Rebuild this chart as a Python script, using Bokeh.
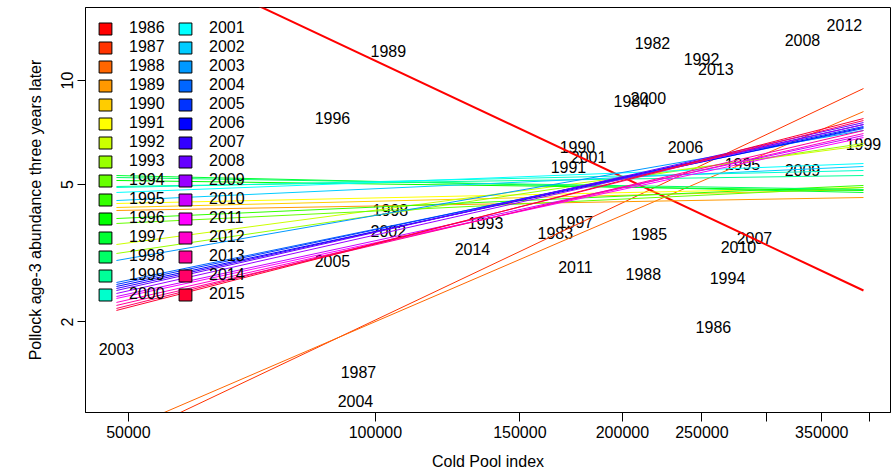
from bokeh.plotting import figure
from bokeh.models import Range1d, FixedTicker, NumeralTickFormatter, Legend, LegendItem, ColumnDataSource
from bokeh.core.properties import value
from bokeh.embed import file_html
from bokeh.resources import INLINE

# ---- data: labelled points (year, cold pool index, pollock abundance 3 yrs later)
label_years = [1982, 1983, 1984, 1985, 1986, 1987, 1988, 1989, 1990, 1991,
               1992, 1993, 1994, 1995, 1996, 1997, 1998, 1999, 2000, 2001,
               2002, 2003, 2004, 2005, 2006, 2007, 2008, 2009, 2010, 2011,
               2012, 2013, 2014]
cold_pool = [217600, 165700, 205100, 215700, 258200, 95350, 212100, 103700, 176300, 171900,
             249700, 136200, 268600, 280100, 88650, 175300, 104300, 393400, 215100, 181900,
             103700, 48350, 94550, 88650, 238700, 289700, 331500, 331500, 277000, 175300,
             372900, 260000, 131300]
abundance = [12.88, 3.63, 8.75, 3.584, 1.928, 1.429, 2.763, 12.21, 6.40, 5.601,
             11.58, 3.881, 2.673, 5.751, 7.814, 3.907, 4.205, 6.53, 8.93, 6.026,
             3.68, 1.665, 1.185, 3.013, 6.40, 3.512, 13.06, 5.49, 3.286, 2.876,
             14.52, 10.83, 3.264]

# ---- data: fitted lines per final year (value at min and max cold pool index)
fit_years = list(range(1986, 2016))
fit_y_left = [25.69, 0.894, 0.954, 4.205, 4.29, 4.406, 3.352, 3.157, 3.856, 3.986,
              5.136, 5.309, 5.239, 4.935, 4.902, 4.741, 4.494, 3.013, 2.602, 2.568,
              2.534, 2.500, 2.467, 2.418, 2.370, 2.339, 2.278, 2.233, 2.189, 2.160]
fit_y_right = [2.467, 9.48, 8.13, 4.585, 4.837, 4.902, 6.485, 6.572, 4.902, 4.968,
               4.805, 4.741, 4.837, 5.309, 5.49, 5.751, 5.638, 7.166, 7.262, 7.36,
               7.31, 7.457, 7.556, 7.457, 6.931, 6.839, 7.024, 7.166, 7.66, 7.762]

x_ticks = [50000, 100000, 150000, 200000, 250000, 300000, 350000, 400000]
y_ticks = [2, 5, 10]

# ---- styles
colors = ["#FF0000", "#FF3300", "#FF6600", "#FF9900", "#FFCC00", "#FFFF00", "#CCFF00", "#99FF00",
          "#66FF00", "#33FF00", "#00FF00", "#00FF33", "#00FF66", "#00FF99", "#00FFCC", "#00FFFF",
          "#00CCFF", "#0099FF", "#0066FF", "#0033FF", "#0000FF", "#3300FF", "#6600FF", "#9900FF",
          "#CC00FF", "#FF00FF", "#FF00CC", "#FF0099", "#FF0066", "#FF0033"]
FONT = "Liberation Sans"
NAN = float("nan")

p = figure(frame_width=805, frame_height=405, x_axis_type="log", y_axis_type="log",
           x_range=Range1d(44330, 424400), y_range=Range1d(1.094, 16.27),
           output_backend="svg", toolbar_location=None,
           min_border_left=85, min_border_right=2, min_border_top=7, min_border_bottom=0)
p.grid.visible = False
p.outline_line_color = "black"
p.outline_line_width = 1
p.background_fill_color = "white"

# point labels
src = ColumnDataSource(dict(x=cold_pool, y=abundance, t=[str(y) for y in label_years]))
p.text(x="x", y="y", text="t", source=src, text_align="center", text_baseline="middle",
       text_font=value(FONT), text_font_size="16px", text_color="black")

# fitted lines
xmin, xmax = min(cold_pool), max(cold_pool)
for yr, yl, yrr, c in zip(fit_years, fit_y_left, fit_y_right, colors):
    p.line(x=[xmin, xmax], y=[yl, yrr], line_color=c, line_width=2 if yr == 1986 else 1)

# legend (swatch-only renderers with no visible geometry)
items = []
for yr, c in zip(fit_years, colors):
    r = p.quad(left=[NAN], right=[NAN], top=[NAN], bottom=[NAN], fill_color=c, line_color="black")
    items.append(LegendItem(label=str(yr), renderers=[r]))
legend = Legend(items=items, location="top_left", nrows=15, orientation="vertical",
                glyph_width=16, glyph_height=15, label_height=15, label_width=47,
                label_standoff=16, spacing=1, padding=0, margin=12,
                border_line_color=None, background_fill_alpha=0,
                label_text_font=FONT, label_text_font_size="16px", label_text_color="black")
p.add_layout(legend)

for ax in (p.xaxis, p.yaxis):
    ax.minor_tick_line_color = None
    ax.major_tick_in = 0
    ax.axis_line_color = "black"
    ax.major_tick_line_color = "black"
    ax.major_label_text_font = FONT
    ax.major_label_text_font_size = "16px"
    ax.major_label_text_color = "black"
    ax.axis_label_text_font = FONT
    ax.axis_label_text_font_size = "16px"
    ax.axis_label_text_font_style = "normal"
    ax.axis_label_text_color = "black"

p.xaxis.ticker = FixedTicker(ticks=x_ticks)
p.xaxis.formatter = NumeralTickFormatter(format="0")
p.xaxis.major_label_overrides = {300000: "", 400000: ""}
p.xaxis.major_tick_out = 9
p.xaxis.major_label_standoff = 4
p.xaxis.axis_label = "Cold Pool index"
p.xaxis.axis_label_standoff = 12

p.yaxis.ticker = FixedTicker(ticks=y_ticks)
p.yaxis.formatter = NumeralTickFormatter(format="0")
p.yaxis.major_tick_out = 8
p.yaxis.major_label_orientation = "vertical"
p.yaxis.major_label_standoff = 4
p.yaxis.axis_label = "Pollock age-3 abundance three years later"
p.yaxis.axis_label_standoff = 15

open("out.html", "w").write(file_html(p, INLINE))
